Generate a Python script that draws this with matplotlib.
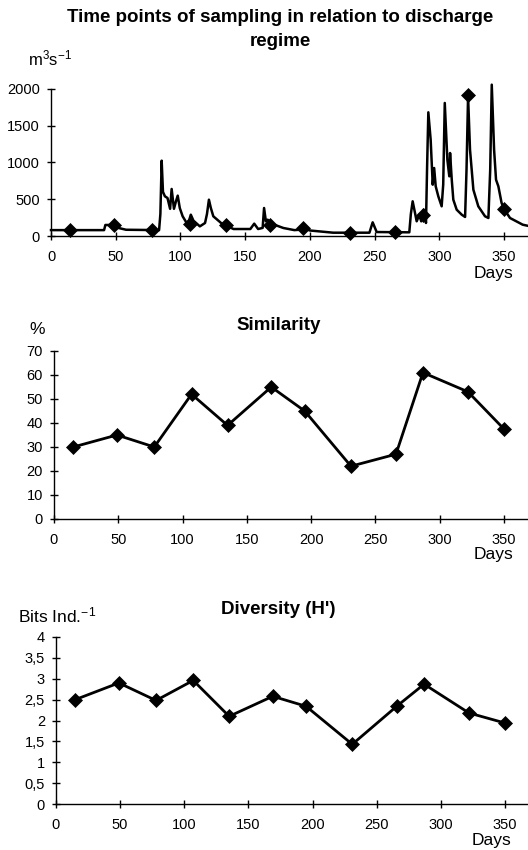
import numpy as np
import matplotlib
matplotlib.use("Agg")
import matplotlib.pyplot as plt
from matplotlib.ticker import FuncFormatter

plt.rcParams['font.family'] = ['Liberation Sans', 'DejaVu Sans']
plt.rcParams['mathtext.fontset'] = 'custom'
plt.rcParams['mathtext.rm'] = 'Liberation Sans'
plt.rcParams['mathtext.it'] = 'Liberation Sans:italic'

q_day = [0, 41, 42, 47, 52, 58, 83.5, 84.5, 85.5, 86.5, 88, 90, 92, 93.2, 95, 96.5,
         97.9, 99.5, 101.7, 104.8, 106.5, 108, 110, 115, 119, 120.5, 122, 123.5,
         125.4, 132, 141, 154, 157, 160, 163.5, 164.6, 166, 167.4, 170, 179.5, 188,
         192, 195, 200, 218, 246, 248.5, 251.6, 276.8, 278, 279.4, 282.5, 284.6,
         286, 288, 289.7, 290.5, 291.5, 293.3, 294.9, 296, 297.2, 299.2, 301.8,
         303, 304.2, 306.2, 307.7, 308.3, 309.6, 310.8, 313.4, 317.3, 319.9, 321,
         322.2, 323.7, 326.3, 330.1, 335.3, 337.9, 339.3, 340.5, 342.3, 343.8,
         345.6, 348.1, 350, 354.6, 364.4, 368]
q_val = [80, 80, 150, 150, 110, 85, 80, 300, 1025, 600, 540, 517, 370, 640, 370, 470,
         549, 380, 268, 177, 200, 290, 210, 131, 177, 300, 494, 380,
         268, 168, 95, 95, 168, 95, 110, 381, 200, 222, 170, 109, 80,
         85, 109, 75, 45, 45, 186, 54, 50, 300, 472, 200, 290,
         200, 358, 177, 900, 1683, 1310, 698, 925, 676, 540, 404,
         700, 1810, 1039, 812, 1129, 766, 494, 358, 290, 259, 900,
         1900, 1175, 630, 404, 268, 245, 900, 2059, 1175, 766,
         676, 449, 367, 245, 154, 140]

# Probenahmetermine
sample_day = [15, 49, 78, 107, 135, 169, 195, 231, 266, 287, 322, 350]
sample_q = [86, 150, 77, 168, 150, 154, 109, 41, 50, 290, 1923, 367]
similarity = [30, 35, 30, 52, 39, 55, 45, 22, 27, 61, 53, 37.5]
diversity = [2.5, 2.9, 2.48, 2.96, 2.1, 2.58, 2.34, 1.43, 2.35, 2.87, 2.18, 1.94]

W, H = 528, 850
fig = plt.figure(figsize=(W / 100, H / 100), dpi=100)
TITLE = 13.5
LAB = 12.5


def make_axes(x0, y0, y1, xmax):
    # Pixelkoordinaten -> Figurkoordinaten
    ax = fig.add_axes([x0 / W, 1 - y0 / H, 1 - x0 / W, (y0 - y1) / H])
    ax.spines['top'].set_visible(False)
    ax.spines['right'].set_visible(False)
    ax.spines['left'].set_linewidth(1.0)
    ax.spines['bottom'].set_linewidth(1.0)
    ax.set_xlim(0, xmax)
    ax.set_xticks(np.arange(0, 351, 50))
    ax.tick_params(axis='both', direction='inout', length=6, width=1.0, labelsize=10.5)
    ax.tick_params(axis='x', pad=7)
    ax.tick_params(axis='y', pad=5)
    ax.patch.set_visible(False)
    return ax


kw = dict(color='black', marker='D', markersize=7.5, markeredgewidth=0.5, clip_on=False)

# oben: Abfluss
ax1 = make_axes(51, 236, 89, 368.5)
ax1.plot(q_day, q_val, color='black', lw=1.8, clip_on=False)
ax1.plot(sample_day, sample_q, lw=0, **kw)
ax1.set_ylim(0, 2000)
ax1.set_yticks(np.arange(0, 2001, 500))
fig.text(280 / W, 1 - 17 / H, 'Time points of sampling in relation to discharge',
         ha='center', va='center', fontsize=TITLE, fontweight='bold')
fig.text(280 / W, 1 - 41 / H, 'regime', ha='center', va='center',
         fontsize=TITLE, fontweight='bold')
fig.text(28 / W, 1 - 58 / H, r'm$^{3}$s$^{-1}$', ha='left', va='center', fontsize=12)
fig.text(513 / W, 1 - 274 / H, 'Days', ha='right', va='center', fontsize=LAB)

# Mitte: Similarity
ax2 = make_axes(54, 519, 351, 368.7)
ax2.plot(sample_day, similarity, lw=2.0, **kw)
ax2.set_ylim(0, 70)
ax2.set_yticks(np.arange(0, 71, 10))
fig.text(279 / W, 1 - 325 / H, 'Similarity', ha='center', va='center',
         fontsize=TITLE, fontweight='bold')
fig.text(29 / W, 1 - 330 / H, '%', ha='left', va='center', fontsize=LAB)
fig.text(513 / W, 1 - 555 / H, 'Days', ha='right', va='center', fontsize=LAB)

# unten: Diversity
ax3 = make_axes(56, 804, 637, 368)
ax3.plot(sample_day, diversity, lw=2.0, **kw)
ax3.set_ylim(0, 4)
ax3.set_yticks(np.arange(0, 4.01, 0.5))
ax3.yaxis.set_major_formatter(FuncFormatter(lambda v, p: f'{v:g}'.replace('.', ',')))
fig.text(278 / W, 1 - 610 / H, "Diversity (H')", ha='center', va='center',
         fontsize=TITLE, fontweight='bold')
fig.text(18 / W, 1 - 615 / H, r'Bits Ind.$^{-1}$', ha='left', va='center', fontsize=LAB)
fig.text(511 / W, 1 - 840 / H, 'Days', ha='right', va='center', fontsize=LAB)

fig.savefig('out.png', dpi=100)
